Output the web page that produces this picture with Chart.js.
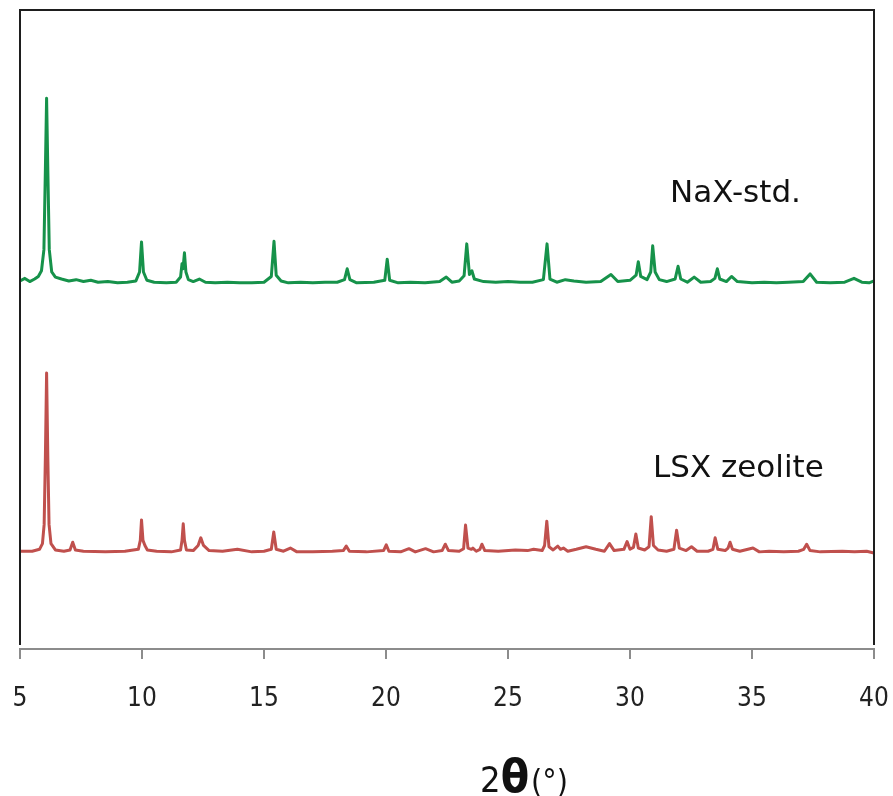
<html>
<head>
  <title>XRD</title>
  <script src="https://cdn.jsdelivr.net/npm/chart.js"></script>
  <style>
    body { margin: 0; background: #fff; }
    .result { width: 893px; height: 796px; }
  </style>
</head>
<body>
  <div class="result">
    <canvas id="myChart"></canvas>
  </div>
  <script>
    // 2θ positions and intensities (a.u., vertical offset already included)
    const naxTheta = [5.0, 5.2, 5.4, 5.6, 5.75, 5.88, 5.98, 6.04, 6.09, 6.14,
      6.2, 6.3, 6.45, 6.7, 7.0, 7.3, 7.6, 7.9, 8.2, 8.6,
      9.0, 9.4, 9.75, 9.9, 9.98, 10.06, 10.2, 10.5, 11.0, 11.4,
      11.58, 11.64, 11.68, 11.74, 11.8, 11.9, 12.1, 12.35, 12.6, 13.0,
      13.5, 14.0, 14.5, 15.0, 15.3, 15.41, 15.5, 15.7, 16.0, 16.5,
      17.0, 17.5, 18.0, 18.3, 18.41, 18.52, 18.8, 19.5, 19.95, 20.05,
      20.15, 20.5, 21.0, 21.6, 22.2, 22.47, 22.7, 23.0, 23.2, 23.31,
      23.42, 23.52, 23.62, 24.0, 24.5, 25.0, 25.5, 26.0, 26.45, 26.6,
      26.72, 27.0, 27.35, 27.7, 28.2, 28.8, 29.22, 29.5, 30.0, 30.25,
      30.34, 30.44, 30.7, 30.85, 30.93, 31.03, 31.2, 31.5, 31.85, 31.97,
      32.08, 32.35, 32.63, 32.9, 33.3, 33.48, 33.58, 33.68, 33.95, 34.16,
      34.4, 35.0, 35.5, 36.0, 36.5, 37.1, 37.38, 37.65, 38.2, 38.8,
      39.18, 39.5, 39.8, 40.0];
    const naxInt = [57.6, 58.0, 57.5, 57.9, 58.3, 59.2, 62.5, 75.0, 86.2, 75.0,
      62.5, 59.0, 58.2, 57.9, 57.6, 57.8, 57.5, 57.7, 57.4, 57.5,
      57.3, 57.4, 57.6, 59.0, 63.7, 59.0, 57.7, 57.4, 57.3, 57.4,
      58.2, 60.3, 59.5, 62.0, 59.0, 57.8, 57.5, 57.9, 57.4, 57.3,
      57.4, 57.3, 57.3, 57.4, 58.3, 63.8, 58.5, 57.6, 57.3, 57.4,
      57.3, 57.4, 57.4, 57.8, 59.5, 57.8, 57.3, 57.4, 57.7, 61.0,
      57.7, 57.3, 57.4, 57.3, 57.5, 58.2, 57.4, 57.6, 58.4, 63.4,
      58.6, 59.2, 57.9, 57.5, 57.4, 57.5, 57.4, 57.4, 57.8, 63.4,
      57.9, 57.4, 57.8, 57.6, 57.4, 57.5, 58.6, 57.5, 57.7, 58.5,
      60.6, 58.3, 57.8, 59.0, 63.1, 59.0, 57.8, 57.5, 57.9, 59.9,
      57.9, 57.4, 58.2, 57.4, 57.5, 58.0, 59.5, 57.9, 57.5, 58.3,
      57.5, 57.3, 57.4, 57.3, 57.4, 57.5, 58.7, 57.4, 57.3, 57.4,
      58.0, 57.4, 57.3, 57.6];

    const lsxTheta = [5.0, 5.5, 5.8, 5.92, 5.99, 6.04, 6.09, 6.14, 6.19, 6.27,
      6.45, 6.8, 7.05, 7.16, 7.27, 7.6, 8.5, 9.3, 9.85, 9.93,
      9.98, 10.04, 10.12, 10.22, 10.6, 11.2, 11.58, 11.64, 11.69, 11.74,
      11.82, 12.1, 12.3, 12.41, 12.52, 12.75, 13.3, 13.91, 14.5, 15.0,
      15.3, 15.4, 15.5, 15.8, 16.08, 16.35, 17.0, 17.8, 18.25, 18.37,
      18.5, 19.2, 19.9, 20.01, 20.12, 20.6, 20.94, 21.2, 21.62, 21.95,
      22.3, 22.43, 22.56, 23.0, 23.18, 23.26, 23.36, 23.5, 23.56, 23.7,
      23.85, 23.93, 24.05, 24.6, 25.3, 25.8, 26.05, 26.4, 26.5, 26.59,
      26.68, 26.85, 27.04, 27.15, 27.27, 27.45, 27.8, 28.2, 28.6, 28.95,
      29.16, 29.35, 29.75, 29.88, 30.0, 30.14, 30.24, 30.34, 30.6, 30.78,
      30.87, 30.96, 31.15, 31.5, 31.8, 31.91, 32.02, 32.3, 32.52, 32.75,
      33.2, 33.4, 33.49, 33.6, 33.9, 34.02, 34.1, 34.2, 34.5, 35.04,
      35.3, 35.7, 36.3, 36.9, 37.12, 37.24, 37.38, 37.8, 38.7, 39.2,
      39.7, 40.0];
    const lsxInt = [15.3, 15.3, 15.6, 16.5, 19.5, 30.0, 43.2, 30.0, 19.5, 16.5,
      15.5, 15.3, 15.5, 16.7, 15.5, 15.3, 15.2, 15.3, 15.6, 17.0,
      20.2, 17.0, 16.2, 15.5, 15.3, 15.2, 15.5, 17.0, 19.6, 17.0,
      15.5, 15.4, 16.2, 17.4, 16.2, 15.4, 15.3, 15.6, 15.2, 15.3,
      15.6, 18.3, 15.6, 15.3, 15.8, 15.2, 15.2, 15.3, 15.4, 16.1,
      15.3, 15.2, 15.4, 16.3, 15.3, 15.2, 15.7, 15.2, 15.7, 15.2,
      15.4, 16.4, 15.4, 15.3, 15.7, 19.4, 15.8, 15.6, 15.8, 15.3,
      15.6, 16.4, 15.4, 15.3, 15.5, 15.4, 15.6, 15.4, 16.2, 20.0,
      16.0, 15.5, 16.1, 15.6, 15.8, 15.3, 15.6, 16.0, 15.6, 15.3,
      16.5, 15.4, 15.6, 16.8, 15.6, 15.9, 18.0, 15.8, 15.5, 16.0,
      20.7, 16.2, 15.5, 15.3, 15.6, 18.6, 15.8, 15.4, 16.0, 15.3,
      15.3, 15.6, 17.4, 15.6, 15.4, 15.8, 16.7, 15.6, 15.3, 15.8,
      15.2, 15.3, 15.2, 15.3, 15.6, 16.4, 15.4, 15.2, 15.3, 15.2,
      15.3, 15.0];

    const xTicks = [5, 10, 15, 20, 25, 30, 35, 40];
    const seriesNames = ['NaX-std.', 'LSX zeolite'];
    const labelTheta = [31.64, 30.94];
    const labelInt = [70.0, 26.9];

    const toPoints = (xs, ys) => xs.map((x, i) => ({ x: x, y: ys[i] }));

    // 黑色外框 + 曲線旁的文字 + x 軸標題
    const decor = {
      id: 'decor',
      afterDraw(chart) {
        const ctx = chart.ctx;
        const a = chart.chartArea;
        const xs = chart.scales.x, ys = chart.scales.y;
        ctx.save();
        ctx.strokeStyle = '#1e1e1e';
        ctx.lineWidth = 2;
        ctx.beginPath();
        ctx.moveTo(a.left, a.bottom - 4);
        ctx.lineTo(a.left, a.top);
        ctx.lineTo(a.right, a.top);
        ctx.lineTo(a.right, a.bottom - 4);
        ctx.stroke();

        ctx.fillStyle = '#111';
        ctx.font = '31px "DejaVu Sans", Verdana, sans-serif';
        ctx.textBaseline = 'alphabetic';
        ctx.textAlign = 'left';
        seriesNames.forEach((name, i) => {
          ctx.fillText(name, xs.getPixelForValue(labelTheta[i]), ys.getPixelForValue(labelInt[i]));
        });

        // 2θ(°)
        const base = 792;
        const f1 = '36px "Liberation Sans Narrow", "DejaVu Sans Condensed", sans-serif';
        const f2 = 'bold 46px "Liberation Sans Narrow", "DejaVu Sans Condensed", sans-serif';
        const f3 = '32px "Liberation Sans Narrow", "DejaVu Sans Condensed", sans-serif';
        ctx.font = f1; const w1 = ctx.measureText('2').width;
        ctx.font = f2; const w2 = ctx.measureText('θ').width;
        ctx.font = f3; const w3 = ctx.measureText('(°)').width;
        let x = 524 - (w1 + w2 + w3 + 2) / 2;
        ctx.font = f1; ctx.fillText('2', x, base); x += w1;
        ctx.font = f2; ctx.fillText('θ', x, base); x += w2 + 2;
        ctx.font = f3; ctx.fillText('(°)', x, base);
        ctx.restore();
      }
    };

    const ctx = document.getElementById('myChart').getContext('2d');
    const myChart = new Chart(ctx, {
      type: 'line',
      data: {
        datasets: [{
          label: seriesNames[0],
          data: toPoints(naxTheta, naxInt),
          borderColor: '#16924a',
          borderWidth: 3,
          borderJoinStyle: 'round',
          pointRadius: 0,
          tension: 0
        }, {
          label: seriesNames[1],
          data: toPoints(lsxTheta, lsxInt),
          borderColor: '#c0504d',
          borderWidth: 3,
          borderJoinStyle: 'round',
          pointRadius: 0,
          tension: 0
        }]
      },
      options: {
        responsive: true,
        maintainAspectRatio: false,
        animation: false,
        layout: { padding: { top: 10, left: 20, right: 19, bottom: 0 } },
        plugins: { legend: { display: false }, tooltip: { enabled: false } },
        scales: {
          x: {
            type: 'linear',
            min: 5,
            max: 40,
            afterBuildTicks: (s) => { s.ticks = xTicks.map(v => ({ value: v })); },
            afterFit: (s) => { s.height = 147; s.paddingLeft = 0; s.paddingRight = 0; },
            grid: { drawOnChartArea: false, drawTicks: true, tickLength: 10, color: '#8c8c8c', lineWidth: 2 },
            border: { display: true, color: '#8c8c8c', width: 2 },
            ticks: {
              padding: 25,
              color: '#222',
              maxRotation: 0,
              font: { family: '"Liberation Sans Narrow", "DejaVu Sans Condensed", sans-serif', size: 26 }
            }
          },
          y: {
            display: false,
            min: 0,
            max: 100
          }
        }
      },
      plugins: [decor]
    });
  </script>
</body>
</html>
